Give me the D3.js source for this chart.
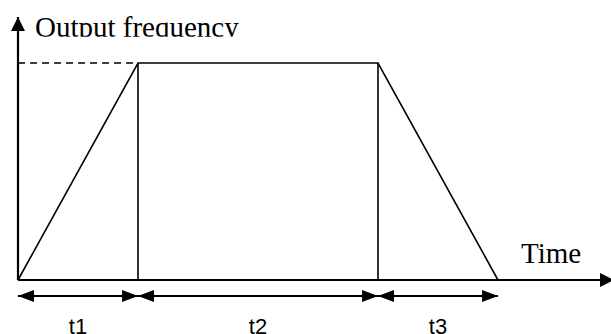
<!DOCTYPE html>
<html lang="en">
<head>
<meta charset="UTF-8">
<title>Output frequency profile</title>
<script src="https://cdn.jsdelivr.net/npm/d3@7/dist/d3.min.js"></script>
<style>
    body{ margin:0; background:#fff; }
    svg{ display:block; }
    .axisLabel{ font-family:"Liberation Serif","Times New Roman",serif; font-size:29px; fill:#000; }
    .phaseLabel{ font-family:"Liberation Sans",Arial,sans-serif; font-size:22px; fill:#000; }
</style>
</head>
<body>
<svg id="main" width="611" height="334"></svg>
<script>
    // phases of the profile (acceleration, constant, deceleration)
    const phases = ["t1", "t2", "t3"];
    const durations = [1, 2, 1];
    // relative output frequency at each phase boundary
    const freqLevels = [0, 1, 1, 0];
    const yLabel = "Output frequency";
    const xLabel = "Time";

    const width = 611, height = 334;
    const svg = d3.select("svg#main");

    const bounds = [0];
    durations.forEach(d => bounds.push(bounds[bounds.length - 1] + d));
    const profile = bounds.map((t, i) => ({t: t, f: freqLevels[i]}));

    const xScale = d3.scaleLinear().domain([0, 5]).range([18, 618]);
    const yScale = d3.scaleLinear().domain([0, 1]).range([280, 63]);

    // arrow markers
    const defs = svg.append("defs");
    defs.append("marker").attr("id", "axisHead")
        .attr("viewBox", "0 0 14 14").attr("refX", 14).attr("refY", 7)
        .attr("markerWidth", 14).attr("markerHeight", 14)
        .attr("markerUnits", "userSpaceOnUse").attr("orient", "auto")
        .append("path").attr("d", "M0,0L14,7L0,14Z").attr("fill", "#000");
    defs.append("marker").attr("id", "dimHead")
        .attr("viewBox", "0 0 16 12").attr("refX", 16).attr("refY", 6)
        .attr("markerWidth", 16).attr("markerHeight", 12)
        .attr("markerUnits", "userSpaceOnUse").attr("orient", "auto-start-reverse")
        .append("path").attr("d", "M0,0L16,6L0,12Z").attr("fill", "#000");
    defs.append("clipPath").attr("id", "labelClip")
        .append("rect").attr("x", 0).attr("y", 0).attr("width", width).attr("height", 36.7);

    const group = svg.append("g");

    // dashed level line from the y axis to the peak
    group.append("line")
        .attr("x1", xScale(0)).attr("x2", xScale(bounds[1]))
        .attr("y1", yScale(freqLevels[1])).attr("y2", yScale(freqLevels[1]))
        .attr("stroke", "#000").attr("stroke-width", 1.5)
        .attr("stroke-dasharray", "7,5");

    // frequency profile
    const line = d3.line().x(d => xScale(d.t)).y(d => yScale(d.f));
    group.append("path")
        .datum(profile)
        .attr("d", line)
        .attr("fill", "none").attr("stroke", "#000").attr("stroke-width", 1.6);

    // vertical lines at the plateau ends
    group.selectAll(".divider")
        .data(profile.filter((d, i) => i > 0 && i < profile.length - 1))
        .enter().append("line")
        .attr("class", "divider")
        .attr("x1", d => xScale(d.t)).attr("x2", d => xScale(d.t))
        .attr("y1", yScale(0)).attr("y2", d => yScale(d.f))
        .attr("stroke", "#000").attr("stroke-width", 1.6);

    // axes
    group.append("line")
        .attr("x1", xScale(0)).attr("x2", xScale(0))
        .attr("y1", yScale(0)).attr("y2", 17)
        .attr("stroke", "#000").attr("stroke-width", 2.2)
        .attr("marker-end", "url(#axisHead)");
    group.append("line")
        .attr("x1", xScale(0)).attr("x2", xScale(5) - 4)
        .attr("y1", yScale(0)).attr("y2", yScale(0))
        .attr("stroke", "#000").attr("stroke-width", 2.2)
        .attr("marker-end", "url(#axisHead)");

    group.append("text").attr("class", "axisLabel")
        .attr("clip-path", "url(#labelClip)")
        .attr("x", 35).attr("y", 37)
        .text(yLabel);
    group.append("text").attr("class", "axisLabel")
        .attr("x", 521).attr("y", 263)
        .text(xLabel);

    // dimension arrows and labels for each phase
    const dims = group.selectAll(".dim")
        .data(phases)
        .enter().append("g").attr("class", "dim");
    dims.append("line")
        .attr("x1", (d, i) => xScale(bounds[i])).attr("x2", (d, i) => xScale(bounds[i + 1]))
        .attr("y1", 296).attr("y2", 296)
        .attr("stroke", "#000").attr("stroke-width", 2)
        .attr("marker-start", "url(#dimHead)")
        .attr("marker-end", "url(#dimHead)");
    dims.append("text").attr("class", "phaseLabel")
        .attr("x", (d, i) => xScale((bounds[i] + bounds[i + 1]) / 2))
        .attr("y", 334)
        .attr("text-anchor", "middle")
        .text(d => d);
</script>
</body>
</html>
